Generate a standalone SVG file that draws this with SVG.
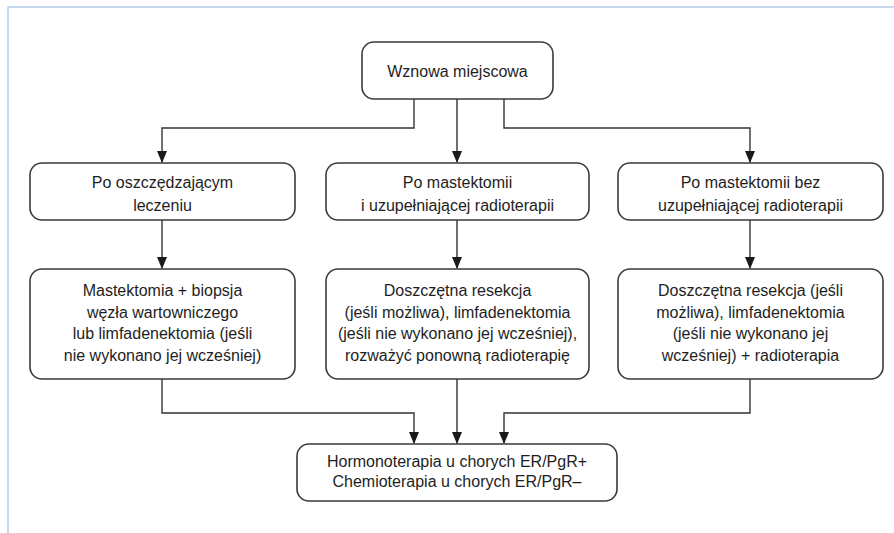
<svg xmlns="http://www.w3.org/2000/svg" width="894" height="533" viewBox="0 0 894 533">
<defs>
<style>
.box{fill:#fff;stroke:#3a3a3a;stroke-width:1.6}
.t{font-family:"Liberation Sans",Arial,sans-serif;font-size:16px;fill:#1e1e1e;text-anchor:middle}
.c{fill:none;stroke:#333;stroke-width:1.4}
.ah{fill:#1a1a1a}
</style>
</defs>
<rect x="0" y="0" width="894" height="533" fill="#fff"/>
<path d="M8,533 L8,7 L894,7" fill="none" stroke="#b7cde6" stroke-width="1.5"/>
<g id="connectors">
<path class="c" d="M414,99 V128 H162 V162"/>
<path class="c" d="M457,99 V162"/>
<path class="c" d="M504,99 V128 H750 V162"/>
<path class="c" d="M162,220 V268"/>
<path class="c" d="M457,220 V268"/>
<path class="c" d="M750,220 V268"/>
<path class="c" d="M162,379 V413 H414 V443"/>
<path class="c" d="M457,379 V443"/>
<path class="c" d="M750,379 V413 H504 V443"/>
<path class="ah" d="M157,151 H167 L162,163 Z"/>
<path class="ah" d="M452,151 H462 L457,163 Z"/>
<path class="ah" d="M745,151 H755 L750,163 Z"/>
<path class="ah" d="M157,257 H167 L162,269 Z"/>
<path class="ah" d="M452,257 H462 L457,269 Z"/>
<path class="ah" d="M745,257 H755 L750,269 Z"/>
<path class="ah" d="M409,432 H419 L414,444 Z"/>
<path class="ah" d="M452,432 H462 L457,444 Z"/>
<path class="ah" d="M499,432 H509 L504,444 Z"/>
</g>
<g id="n-top">
<rect class="box" x="362" y="42" width="191" height="57" rx="12"/>
<text class="t" x="457.5" y="77">Wznowa miejscowa</text>
</g>
<g id="n-po-oszcz">
<rect class="box" x="30" y="163" width="265" height="57" rx="12"/>
<text class="t" x="162.5" y="188">Po oszczędzającym</text>
<text class="t" x="162.5" y="211">leczeniu</text>
</g>
<g id="n-po-mast-radio">
<rect class="box" x="326" y="163" width="263" height="57" rx="12"/>
<text class="t" x="457.5" y="188">Po mastektomii</text>
<text class="t" x="457.5" y="211">i uzupełniającej radioterapii</text>
</g>
<g id="n-po-mast-bez">
<rect class="box" x="618" y="163" width="265" height="57" rx="12"/>
<text class="t" x="750.5" y="188">Po mastektomii bez</text>
<text class="t" x="750.5" y="211">uzupełniającej radioterapii</text>
</g>
<g id="n-mastektomia">
<rect class="box" x="30" y="269" width="265" height="110" rx="12"/>
<text class="t" x="162.5" y="296">Mastektomia + biopsja</text>
<text class="t" x="162.5" y="317.5">węzła wartowniczego</text>
<text class="t" x="162.5" y="339">lub limfadenektomia (jeśli</text>
<text class="t" x="162.5" y="360.5">nie wykonano jej wcześniej)</text>
</g>
<g id="n-resekcja-mid">
<rect class="box" x="326" y="269" width="263" height="110" rx="12"/>
<text class="t" x="457.5" y="296">Doszczętna resekcja</text>
<text class="t" x="457.5" y="317.5">(jeśli możliwa), limfadenektomia</text>
<text class="t" x="457.5" y="339">(jeśli nie wykonano jej wcześniej),</text>
<text class="t" x="457.5" y="360.5">rozważyć ponowną radioterapię</text>
</g>
<g id="n-resekcja-right">
<rect class="box" x="618" y="269" width="265" height="110" rx="12"/>
<text class="t" x="750.5" y="296">Doszczętna resekcja (jeśli</text>
<text class="t" x="750.5" y="317.5">możliwa), limfadenektomia</text>
<text class="t" x="750.5" y="339">(jeśli nie wykonano jej</text>
<text class="t" x="750.5" y="360.5">wcześniej) + radioterapia</text>
</g>
<g id="n-bottom">
<rect class="box" x="297" y="444" width="320" height="57" rx="12"/>
<text class="t" x="457" y="467">Hormonoterapia u chorych ER/PgR+</text>
<text class="t" x="457" y="487">Chemioterapia u chorych ER/PgR–</text>
</g>
</svg>
